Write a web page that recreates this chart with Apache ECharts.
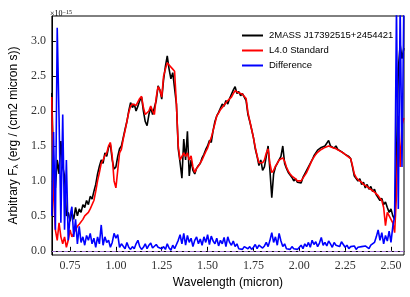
<!DOCTYPE html>
<html><head><meta charset="utf-8">
<script src="https://cdn.jsdelivr.net/npm/echarts@6/dist/echarts.min.js"></script>
<style>html,body{margin:0;padding:0;background:#fff}#c{width:410px;height:297px}</style>
</head><body><div id="c"></div>
<script>
// wavelength grid (micron), 0.65 .. 2.57 in 0.01 steps
const wlStart = 0.65, wlStep = 0.01;
const black2mass = [
2.26,1.2,0.9,1.3,1.1,1.57,1.2,1.07,0.5,0.55,
0.42,0.55,0.45,0.62,0.5,0.6,0.55,0.66,0.62,0.72,
0.66,0.78,0.74,0.85,0.95,1.1,1.21,1.3,1.25,1.4,
1.35,1.48,1.52,1.3,1.17,1.2,1.35,1.46,1.5,1.62,
1.74,1.85,2.0,2.12,2.05,2.1,2.0,2.07,2.15,2.2,
2.0,1.85,1.79,1.95,2.05,1.95,1.93,2.15,2.36,2.3,
2.17,2.45,2.64,2.79,2.6,2.46,2.55,2.57,2.1,1.46,
1.26,1.04,1.6,1.3,1.71,1.07,1.3,1.15,1.1,1.18,
1.22,1.25,1.33,1.38,1.45,1.5,1.58,1.55,1.72,1.85,
1.93,1.98,2.0,2.1,2.07,2.15,2.1,2.18,2.16,2.3,
2.35,2.25,2.28,2.22,2.25,2.2,2.15,1.95,1.85,1.74,
1.62,1.46,1.35,1.22,1.3,1.15,1.2,1.35,1.5,1.15,
0.76,1.1,1.2,1.25,1.3,1.35,1.5,1.25,1.18,1.12,
1.1,1.05,1.0,1.03,0.98,1.0,0.97,1.05,1.1,1.15,
1.2,1.25,1.3,1.36,1.38,1.44,1.43,1.48,1.46,1.5,
1.52,1.58,1.5,1.52,1.47,1.5,1.45,1.46,1.42,1.43,
1.38,1.36,1.35,1.32,1.2,1.07,1.05,1.0,1.03,0.95,
0.98,0.9,0.95,0.88,0.92,0.85,0.88,0.8,0.82,0.72,
0.75,0.66,0.7,0.62,0.55,0.6,0.5,0.45,1.3,2.6,
2.95,2.75,2.9];
const redStandard = [
2.2,0.8,0.3,0.15,0.4,0.2,0.1,0.2,0.05,0.15,
0.3,0.2,0.25,0.3,0.35,0.38,0.4,0.45,0.5,0.52,
0.55,0.6,0.62,0.72,0.85,1.0,1.12,1.25,1.3,1.36,
1.4,1.5,1.55,1.35,1.0,0.9,1.15,1.4,1.45,1.6,
1.72,1.85,1.98,2.07,2.1,2.12,2.08,2.1,2.18,2.21,
2.05,1.95,1.93,2.0,2.07,2.0,1.95,2.2,2.35,2.3,
2.2,2.5,2.6,2.69,2.66,2.64,2.6,2.57,2.1,1.5,
1.3,1.3,1.4,1.35,1.4,1.3,1.36,1.2,1.12,1.18,
1.21,1.26,1.3,1.36,1.42,1.47,1.55,1.62,1.72,1.82,
1.93,1.97,2.02,2.05,2.07,2.12,2.15,2.17,2.2,2.25,
2.29,2.3,2.26,2.24,2.24,2.22,2.18,1.98,1.86,1.74,
1.62,1.48,1.36,1.26,1.26,1.26,1.3,1.4,1.46,1.25,
1.12,1.15,1.21,1.25,1.3,1.31,1.33,1.28,1.2,1.14,
1.1,1.07,1.05,1.03,1.0,0.98,1.0,1.04,1.08,1.12,
1.18,1.24,1.3,1.34,1.38,1.41,1.43,1.45,1.47,1.48,
1.49,1.5,1.49,1.48,1.47,1.46,1.45,1.43,1.41,1.4,
1.38,1.36,1.34,1.32,1.22,1.1,1.05,1.02,1.0,0.98,
0.95,0.93,0.92,0.9,0.88,0.86,0.84,0.82,0.79,0.75,
0.72,0.62,0.36,0.55,0.5,0.48,0.4,0.26,0.8,1.93,
1.2,1.8,1.9];
const difference = [
0.5,1.7,0.3,3.19,1.9,0.4,1.95,0.3,1.3,0.15,
0.5,0.63,0.2,0.45,0.1,0.35,0.12,0.2,0.08,0.22,
0.15,0.25,0.1,0.18,0.05,0.2,0.1,0.37,0.08,0.2,
0.12,0.15,0.05,0.12,0.25,0.18,0.23,0.05,0.1,0.08,
0.03,0.12,0.05,0.02,0.06,0.03,0.1,0.15,0.06,0.02,
0.05,0.1,0.03,0.08,0.11,0.04,0.02,0.09,0.05,0.07,
0.03,0.06,0.02,0.1,0.04,0.01,0.08,0.03,0.05,0.15,
0.23,0.1,0.25,0.08,0.22,0.12,0.18,0.06,0.15,0.2,
0.1,0.17,0.08,0.2,0.12,0.23,0.09,0.21,0.14,0.1,
0.18,0.07,0.15,0.1,0.19,0.06,0.2,0.12,0.08,0.14,
0.06,0.1,0.03,0.05,0.02,0.06,0.04,0.03,0.06,0.02,
0.05,0.09,0.03,0.08,0.1,0.04,0.07,0.12,0.06,0.15,
0.26,0.12,0.2,0.08,0.25,0.14,0.06,0.1,0.03,0.05,
0.02,0.06,0.03,0.05,0.02,0.04,0.08,0.03,0.1,0.06,
0.12,0.05,0.15,0.09,0.13,0.06,0.11,0.19,0.08,0.12,
0.07,0.14,0.1,0.05,0.12,0.08,0.1,0.06,0.13,0.09,
0.05,0.08,0.03,0.06,0.04,0.07,0.02,0.05,0.03,0.06,
0.04,0.07,0.05,0.03,0.08,0.06,0.12,0.2,0.3,0.15,
0.26,0.1,0.22,0.14,0.28,0.12,0.35,0.5,3.5,0.6,
3.5,1.2,3.5];
const xTicks = [0.75,1.00,1.25,1.50,1.75,2.00,2.25,2.50];
const yTicks = [0.0,0.5,1.0,1.5,2.0,2.5,3.0];
const seriesNames = ['2MASS J17392515+2454421','L4.0 Standard','Difference'];

function pairs(arr){return arr.map((v,i)=>[+(wlStart+i*wlStep).toFixed(2), v]);}

const chart = echarts.init(document.getElementById('c'), null, {renderer:'canvas'});
const serif = 'Liberation Serif';
const sans = 'Liberation Sans';
chart.setOption({
  animation:false,
  backgroundColor:'#fff',
  title:{
    text:'×10{s|−15}', left:45, top:4,
    textStyle:{fontFamily:serif,fontSize:8,fontWeight:'normal',color:'#000',
      rich:{s:{fontFamily:serif,fontSize:6,verticalAlign:'top',padding:[0,0,4,0]}}}
  },
  grid:{left:46,right:6,top:16,bottom:42,show:true,borderColor:'#000',borderWidth:1,backgroundColor:'transparent'},
  legend:{
    orient:'vertical', left:237, top:23, itemGap:0, itemWidth:21, itemHeight:2, icon:'rect',
    data:seriesNames,
    textStyle:{fontFamily:sans,fontSize:9.5,color:'#000',lineHeight:15,padding:[0,0,0,1]}
  },
  xAxis:{
    type:'value', min:0.651, max:2.571,
    name:'Wavelength (micron)', nameLocation:'middle', nameGap:17,
    nameTextStyle:{fontFamily:sans,fontSize:12,color:'#000'},
    axisLine:{show:true,lineStyle:{color:'#000',width:1}},
    axisTick:{show:true,inside:true,length:4,customValues:xTicks,lineStyle:{color:'#000'}},
    axisLabel:{customValues:xTicks,margin:5,fontFamily:serif,fontSize:12,color:'#333',
      formatter:v=>v.toFixed(2)},
    splitLine:{show:false}
  },
  yAxis:{
    type:'value', min:-0.06, max:3.36,
    name:'Arbitrary F{s|λ} (erg / (cm2 micron s))', nameLocation:'middle', nameGap:31, nameRotate:90,
    nameTextStyle:{fontFamily:sans,fontSize:12,color:'#000',
      rich:{s:{fontFamily:sans,fontSize:8,verticalAlign:'bottom',padding:[4,0,0,0]}}},
    axisLine:{show:true,lineStyle:{color:'#000',width:1}},
    axisTick:{show:true,inside:true,length:4,customValues:yTicks,lineStyle:{color:'#000'}},
    axisLabel:{customValues:yTicks,margin:6,fontFamily:serif,fontSize:12,color:'#333',
      formatter:v=>v.toFixed(1)},
    splitLine:{show:false}
  },
  series:[
    {name:seriesNames[0],type:'line',data:pairs(black2mass),showSymbol:false,symbol:'none',
      lineStyle:{color:'#000',width:1.6},itemStyle:{color:'#000'},clip:true},
    {name:seriesNames[1],type:'line',data:pairs(redStandard),showSymbol:false,symbol:'none',
      lineStyle:{color:'#ff0000',width:1.6},itemStyle:{color:'#ff0000'},clip:true},
    {name:seriesNames[2],type:'line',data:pairs(difference),showSymbol:false,symbol:'none',
      lineStyle:{color:'#0000ff',width:1.6},itemStyle:{color:'#0000ff'},clip:true,
      markLine:{silent:true,symbol:'none',label:{show:false},
        lineStyle:{type:'dashed',color:'#a070d0',width:1},data:[{yAxis:0}]}}
  ]
});
</script></body></html>
